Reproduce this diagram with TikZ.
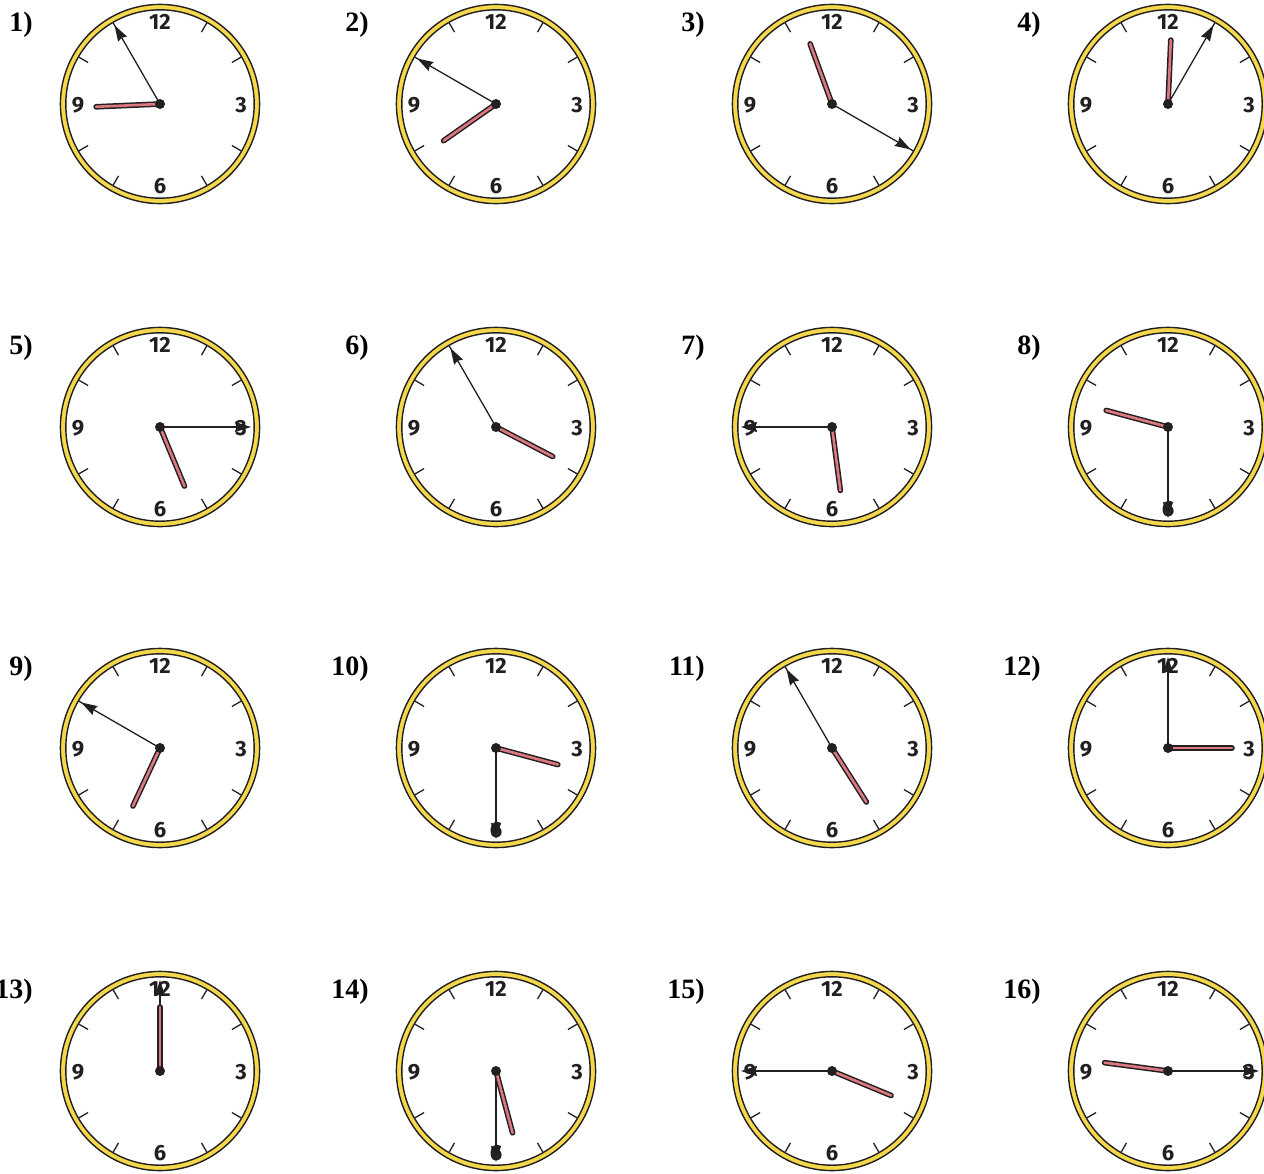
\documentclass[tikz,border=0pt]{standalone}
\usepackage{fontspec}
\setmainfont{Liberation Serif}
\newfontfamily\clockfont{Fira Sans}
\usetikzlibrary{arrows.meta}
\definecolor{ringyellow}{HTML}{F4D84C}
\definecolor{inkblack}{HTML}{231F20}
\definecolor{handpink}{HTML}{DC7880}
\tikzset{
  ringband/.style={draw=ringyellow, line width=5pt},
  ringline/.style={draw=inkblack, line width=1.4pt},
  hourtick/.style={draw=inkblack, line width=1.3pt},
  clocknum/.style={font=\clockfont\bfseries\fontsize{22}{24}\selectfont, text=inkblack, inner sep=0pt},
  hourout/.style={draw=inkblack, line width=5.6pt, line cap=round},
  hourin/.style={draw=handpink, line width=2.6pt, line cap=round},
  minhand/.style={draw=inkblack, line width=1.3pt, -{Stealth[length=16pt,width=10pt,inset=1.5pt]}},
  qlabel/.style={font=\bfseries\fontsize{28}{30}\selectfont, anchor=base east, inner sep=0pt}
}
\begin{document}
\begin{tikzpicture}[x=1pt,y=-1pt]
\useasboundingbox (0,0) rectangle (1264,1173);
\foreach \cx/\cy/\h/\m/\lab in {
  160/104/267.5/330/1), 496/104/235/300/2), 832/104/340/120/3), 1168/104/2.5/30/4),
  160/427/157.5/90/5), 496/427/117.5/330/6), 832/427/172.5/270/7), 1168/427/285/180/8),
  160/748/205/300/9), 496/748/105/180/10), 832/748/147.5/330/11), 1168/748/90/0/12),
  160/1071/0/0/13), 496/1071/165/180/14), 832/1071/112.5/270/15), 1168/1071/277.5/90/16)}{
  \node[qlabel] (lab) at (\cx-127,\cy-73) {\lab};
  \begin{scope}[shift={(\cx,\cy)}]
    \coordinate (ctr) at (0,0);
    \draw[ringband] (ctr) circle (97);
    \draw[ringline] (ctr) circle (99.6);
    \draw[ringline] (ctr) circle (94.2);
    \foreach \t in {1,2,4,5,7,8,10,11}
      \draw[hourtick] (\t*30-90:83) -- (\t*30-90:94);
    \node[clocknum] (n12) at (0,-82) {12};
    \node[clocknum] (n3) at (81,1) {3};
    \node[clocknum] (n6) at (0,82) {6};
    \node[clocknum] (n9) at (-82,1) {9};
    \coordinate (mtip) at (\m-90:91);
    \coordinate (htip) at (\h-90:64);
    \draw[minhand] (ctr) -- (mtip);
    \draw[hourout] (ctr) -- (htip);
    \draw[hourin] (ctr) -- (htip);
    \fill[inkblack] (ctr) circle (5);
  \end{scope}
}
\end{tikzpicture}
\end{document}
